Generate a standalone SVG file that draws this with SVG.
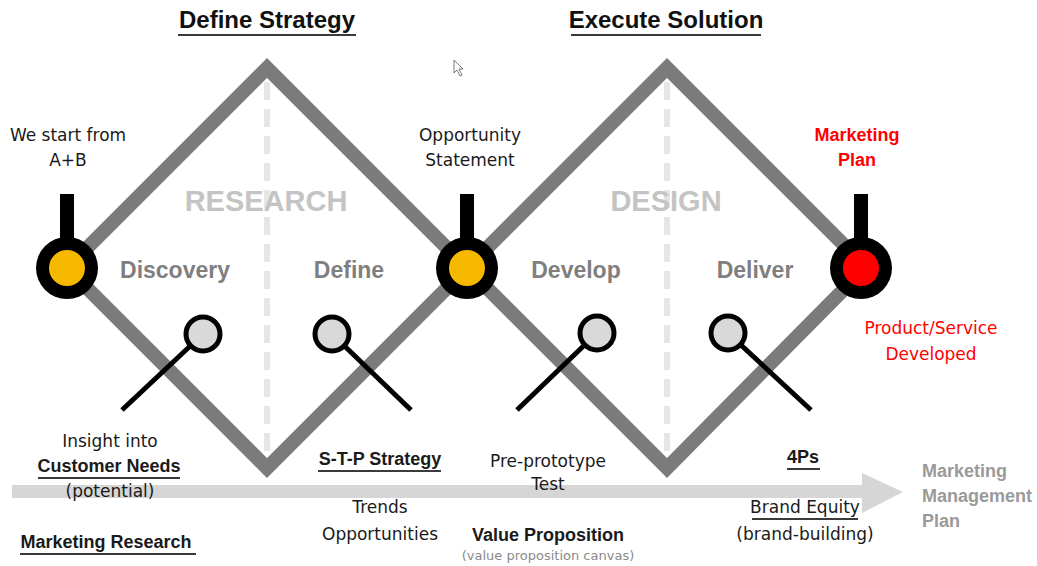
<svg xmlns="http://www.w3.org/2000/svg" width="1037" height="566" viewBox="0 0 1037 566">
<style>
text{font-family:"Liberation Sans",Arial,sans-serif;text-anchor:middle}
.title{font-size:24px;font-weight:bold;fill:#111}
.lbl{font-family:"DejaVu Sans","Liberation Sans",sans-serif;font-size:17px;fill:#1a1a1a}
.bl{font-size:18px;font-weight:bold;fill:#1a1a1a}
.red{fill:#f00}
.phase{font-size:23px;font-weight:bold;fill:#7f7f7f}
.big{font-size:29px;font-weight:bold;fill:#c4c4c4}
.ul{stroke:#3a3a3a;stroke-width:2}
.dia{fill:none;stroke:#7b7b7b;stroke-width:14;stroke-linejoin:miter}
.dash{stroke:#e6e6e6;stroke-width:6;stroke-dasharray:18 9}
.stem{fill:#000}
.hub{fill:#000}
.mag{fill:#d9d9d9;stroke:#000;stroke-width:5}
.handle{stroke:#000;stroke-width:5;stroke-linecap:butt}
</style>
<rect width="1037" height="566" fill="#fff"/>

<g id="titles">
<text class="title" x="267" y="28">Define Strategy</text>
<line class="ul" x1="178" y1="35" x2="356" y2="35"/>
<text class="title" x="666" y="28">Execute Solution</text>
<line class="ul" x1="571" y1="35" x2="761" y2="35"/>
</g>

<g id="backdrop">
<line class="dash" x1="267" y1="82" x2="267" y2="462"/>
<line class="dash" x1="667" y1="82" x2="667" y2="462"/>
<text class="big" x="266" y="211">RESEARCH</text>
<text class="big" x="666" y="211">DESIGN</text>
<text class="phase" x="175" y="278">Discovery</text>
<text class="phase" x="349" y="278">Define</text>
<text class="phase" x="576" y="278">Develop</text>
<text class="phase" x="755" y="278">Deliver</text>
</g>

<g id="arrow">
<rect x="12" y="485" width="852" height="13" fill="#d6d6d6"/>
<polygon points="862,473 903,492 862,513" fill="#d6d6d6"/>
</g>

<g id="connectors">
<path class="dia" d="M67,268 L267,68 L467,268 L267,468 Z"/>
<path class="dia" d="M467,268 L667,68 L866,267 L667,468 Z"/>
</g>

<g id="node-start">
<rect class="stem" x="60" y="194" width="14" height="50"/>
<circle class="hub" cx="67" cy="268" r="31"/>
<circle cx="67" cy="268" r="18" fill="#f7b900"/>
<text class="lbl" x="68" y="141">We start from</text>
<text class="lbl" x="68" y="166">A+B</text>
</g>

<g id="node-opportunity">
<rect class="stem" x="460" y="194" width="14" height="50"/>
<circle class="hub" cx="467" cy="268" r="31"/>
<circle cx="467" cy="268" r="18" fill="#f7b900"/>
<text class="lbl" x="470" y="141">Opportunity</text>
<text class="lbl" x="470" y="166">Statement</text>
</g>

<g id="node-plan">
<rect class="stem" x="854" y="194" width="14" height="50"/>
<circle class="hub" cx="861" cy="268" r="31"/>
<circle cx="861" cy="268" r="18" fill="#f00"/>
<text class="bl red" x="857" y="141">Marketing</text>
<text class="bl red" x="857" y="166">Plan</text>
<text class="lbl red" x="931" y="334">Product/Service</text>
<text class="lbl red" x="931" y="360">Developed</text>
</g>

<g id="probe-discovery">
<line class="handle" x1="203" y1="334" x2="122" y2="410"/>
<circle class="mag" cx="203" cy="334" r="17"/>
</g>
<g id="probe-define">
<line class="handle" x1="332" y1="334" x2="411" y2="410"/>
<circle class="mag" cx="332" cy="334" r="17"/>
</g>
<g id="probe-develop">
<line class="handle" x1="597" y1="333" x2="517" y2="410"/>
<circle class="mag" cx="597" cy="333" r="17"/>
</g>
<g id="probe-deliver">
<line class="handle" x1="728" y1="333" x2="811" y2="410"/>
<circle class="mag" cx="728" cy="333" r="17"/>
</g>

<g id="bottom-labels">
<text class="lbl" x="110" y="447">Insight into</text>
<text class="bl" x="109" y="472">Customer Needs</text>
<line class="ul" x1="38" y1="478" x2="180" y2="478"/>
<text class="lbl" x="110" y="497">(potential)</text>
<text class="bl" x="106" y="548">Marketing Research</text>
<line class="ul" x1="20" y1="554" x2="196" y2="554"/>

<text class="bl" x="380" y="465">S-T-P Strategy</text>
<line class="ul" x1="318" y1="471" x2="441" y2="471"/>
<text class="lbl" x="380" y="513">Trends</text>
<text class="lbl" x="380" y="540">Opportunities</text>

<text class="lbl" x="548" y="467">Pre-prototype</text>
<text class="lbl" x="548" y="490">Test</text>
<text class="bl" x="548" y="541">Value Proposition</text>
<text x="548" y="560" style="font-family:'DejaVu Sans','Liberation Sans',sans-serif;font-size:13px;fill:#8a8a8a">(value proposition canvas)</text>

<text class="bl" x="803" y="463">4Ps</text>
<line class="ul" x1="787" y1="469" x2="820" y2="469"/>
<text class="lbl" x="805" y="513">Brand Equity</text>
<line class="ul" x1="752" y1="519" x2="858" y2="519"/>
<text class="lbl" x="805" y="540">(brand-building)</text>

<text x="922" y="477" style="font-size:18px;font-weight:bold;fill:#9a9a9a;text-anchor:start">Marketing</text>
<text x="922" y="502" style="font-size:18px;font-weight:bold;fill:#9a9a9a;text-anchor:start">Management</text>
<text x="922" y="527" style="font-size:18px;font-weight:bold;fill:#9a9a9a;text-anchor:start">Plan</text>
</g>

<g id="cursor">
<path d="M454,60 L454,73 L457,70 L460,76 L462,75 L459,69 L463,69 Z" fill="#fff" stroke="#777" stroke-width="1"/>
</g>
</svg>
